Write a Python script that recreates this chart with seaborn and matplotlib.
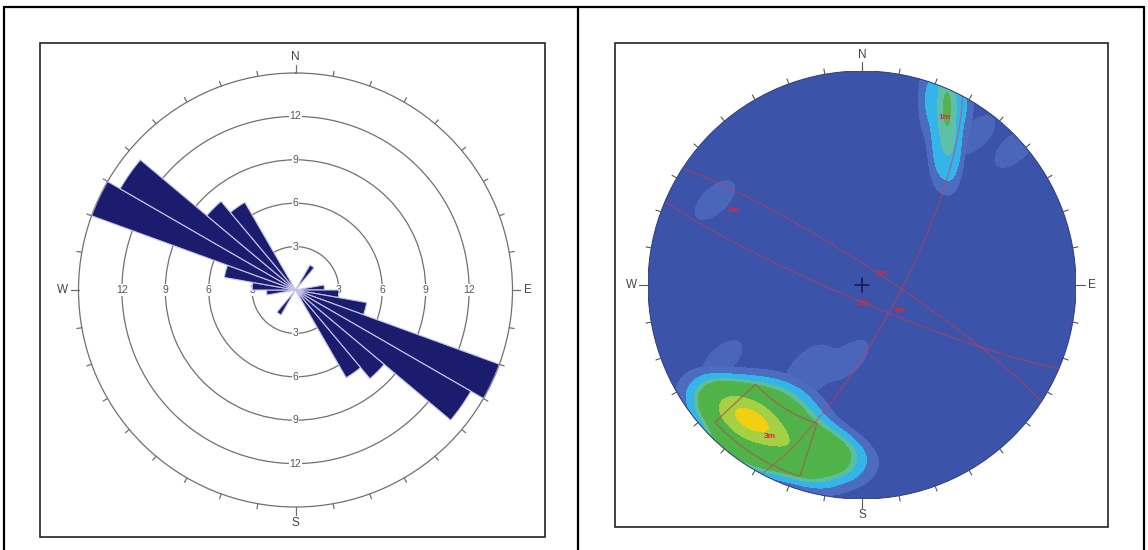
import numpy as np
import pandas as pd
import matplotlib
matplotlib.use("Agg")
import matplotlib.pyplot as plt
import seaborn as sns
from matplotlib.patches import Circle, Rectangle
from matplotlib.lines import Line2D

# ---------------- data ----------------
# Rose diagram: joint strike counts in 10-degree bins (0-180, plotted bidirectionally)
bin_start = [0, 10, 20, 30, 40, 50, 60, 70, 80, 90, 100, 110, 120, 130, 140, 150, 160, 170]
strike_counts = [0, 0, 0, 2, 0, 0, 0, 0, 2, 3, 5, 15, 14, 8, 7, 0, 0, 0]
ring_values = [3, 6, 9, 12]
rose_max = 15

# Poles (equal-area, lower hemisphere, unit disc: x east, y north), pole counts, joint set
pole_x = [-0.523, -0.570, -0.467, -0.593, -0.453, -0.383, -0.290, -0.196, -0.126,
          -0.290, -0.664, -0.477, -0.617, -0.336,
          0.402, 0.388, 0.397, 0.411, 0.364, 0.318, 0.467, 0.411,
          -0.687, -0.654, -0.252, -0.252, -0.065, 0.715, 0.528]
pole_y = [-0.617, -0.668, -0.654, -0.537, -0.537, -0.724, -0.631, -0.794, -0.748,
          -0.841, -0.584, -0.794, -0.748, -0.514,
          0.902, 0.841, 0.771, 0.678, 0.631, 0.864, 0.864, 0.631,
          0.397, -0.350, -0.374, -0.444, -0.350, 0.640, 0.701]
pole_count = [10, 5, 5, 4, 3, 4, 2, 4, 2,
              3, 2, 3, 2, 1,
              4, 3, 3, 2, 1, 1, 1, 1,
              1, 1, 1, 1, 1, 1, 1]
pole_set = ["1"] * 14 + ["2"] * 8 + ["-"] * 7

# Contour bands (iso-proportions) and colours for each joint set
set_levels = {"1": [0.01, 0.035, 0.08, 0.12, 0.6, 0.88, 1.0],
              "2": [0.02, 0.1, 0.45, 0.88, 1.0],
              "-": [0.3, 1.0]}
set_colors = {"1": ["#4c6cc0", "#33b5ea", "#5cbf9c", "#4fb34a", "#a6d043", "#f3cf12"],
              "2": ["#4c6cc0", "#33b5ea", "#5fc0a8", "#55b34d"],
              "-": ["#4a66bb"]}
set_bw = {"1": 0.95, "2": 1.25, "-": 0.17}

# Mean planes: dip direction / dip
plane_dipdir = [33, 203, 118]
plane_dip = [83, 84, 76]

# Set window: trend range and equal-area radius range
window_trend = [198, 227]
window_radius = [0.68, 0.94]

# Set labels (position in unit disc)
label_text = ["1m", "2m", "3m", "2m", "1m", "3m"]
label_x = [0.092, 0.006, 0.178, -0.601, 0.388, -0.430]
label_y = [0.055, -0.086, -0.117, 0.350, 0.785, -0.710]

# ---------------- style ----------------
sns.set_theme(style="white")
plt.rcParams["font.family"] = ["Liberation Sans", "DejaVu Sans"]

W, H = 1148, 550
fig = plt.figure(figsize=(W / 100, H / 100), dpi=100)
fig.patch.set_facecolor("white")


def fx(px):
    return px / W


def fy(py):
    return 1 - py / H


# table frame
for seg in [((4, 7), (1144, 7)), ((4, 7), (4, 552)), ((578, 7), (578, 552)),
            ((1144, 7), (1144, 552))]:
    (x0, y0), (x1, y1) = seg
    fig.add_artist(Line2D([fx(x0), fx(x1)], [fy(y0), fy(y1)], color="black", lw=1.6,
                          transform=fig.transFigure))
for (x0, y0, x1, y1) in [(40, 43, 545, 537), (615, 43, 1108, 527)]:
    fig.add_artist(Rectangle((fx(x0), fy(y1)), fx(x1) - fx(x0), fy(y0) - fy(y1),
                             fill=False, ec="#222222", lw=1.2, transform=fig.transFigure))

# ---------------- rose diagram ----------------
cx, cy, rpx = 295.5, 290, 217
ax1 = fig.add_axes([fx(cx - rpx), fy(cy + rpx), 2 * rpx / W, 2 * rpx / H], projection="polar")
ax1.set_theta_zero_location("N")
ax1.set_theta_direction(-1)
ax1.set_ylim(0, rose_max)
ax1.set_facecolor("none")
ax1.set_xticks([])
ax1.set_yticks(ring_values)
ax1.set_yticklabels([])
ax1.yaxis.grid(True, color="#707070", lw=0.9)
ax1.xaxis.grid(False)
ax1.spines["polar"].set_color("#707070")
ax1.spines["polar"].set_linewidth(0.9)

theta = np.deg2rad(np.concatenate([bin_start, np.array(bin_start) + 180]) + 5)
radii = np.concatenate([strike_counts, strike_counts])
ax1.bar(theta, radii, width=np.deg2rad(10), color="#1c1c6e", edgecolor="#c4c4ee",
        linewidth=0.8, zorder=3)

for ang in [0, 90, 180, 270]:
    for v in ring_values:
        ax1.text(np.deg2rad(ang), v, str(v), ha="center", va="center", fontsize=7.5,
                 color="#555555", zorder=2,
                 bbox=dict(fc="white", ec="none", pad=0.6))

for ang in range(0, 360, 10):
    L = 0.55 if ang % 90 == 0 else 0.35
    ax1.plot([np.deg2rad(ang)] * 2, [rose_max, rose_max + L], color="#707070", lw=0.9,
             clip_on=False, zorder=2)
for ang, lab in zip([0, 90, 180, 270], ["N", "E", "S", "W"]):
    ax1.text(np.deg2rad(ang), rose_max + 1.1, lab, ha="center", va="center",
             fontsize=8.5, color="#444444", clip_on=False)

# ---------------- stereonet ----------------
sx, sy, spx = 862, 285, 214
ax2 = fig.add_axes([fx(sx - spx), fy(sy + spx), 2 * spx / W, 2 * spx / H])
ax2.add_patch(Circle((0, 0), 1, fc="#3b53a8", ec="none", zorder=0))

poles = pd.DataFrame({"x": pole_x, "y": pole_y, "n": pole_count, "set": pole_set})
for key in ["-", "1", "2"]:
    sub = poles[poles["set"] == key]
    sns.kdeplot(data=sub, x="x", y="y", weights="n", ax=ax2, fill=True,
                color=set_colors[key][0], levels=set_levels[key],
                colors=set_colors[key], bw_adjust=set_bw[key],
                gridsize=250, cut=4, zorder=1)
clip = Circle((0, 0), 1, transform=ax2.transData)
for coll in ax2.collections:
    coll.set_clip_path(clip)
ax2.set_xlim(-1, 1)
ax2.set_ylim(-1, 1)
ax2.axis("off")


def great_circle(dd, dip):
    d, a = np.deg2rad(dd), np.deg2rad(dip)
    t = np.linspace(0, np.pi, 200)
    s = np.array([np.sin(d - np.pi / 2), np.cos(d - np.pi / 2), 0.0])
    v = np.array([np.sin(d) * np.cos(a), np.cos(d) * np.cos(a), np.sin(a)])
    vec = np.outer(np.cos(t), s) + np.outer(np.sin(t), v)
    plunge = np.arcsin(np.clip(vec[:, 2], -1, 1))
    trend = np.arctan2(vec[:, 0], vec[:, 1])
    r = np.sqrt(2) * np.sin((np.pi / 2 - plunge) / 2)
    return r * np.sin(trend), r * np.cos(trend)


for dd, dip in zip(plane_dipdir, plane_dip):
    gx, gy = great_circle(dd, dip)
    ax2.plot(gx, gy, color="#d8394c", lw=1.0, alpha=0.5, zorder=3)

# set window outline
t0, t1 = np.deg2rad(window_trend)
r0, r1 = window_radius
arc = np.linspace(t0, t1, 40)
wx = np.concatenate([r0 * np.sin(arc), r1 * np.sin(arc[::-1]), [r0 * np.sin(t0)]])
wy = np.concatenate([r0 * np.cos(arc), r1 * np.cos(arc[::-1]), [r0 * np.cos(t0)]])
ax2.plot(wx, wy, color="#a8584a", lw=1.0, alpha=0.75, zorder=3)

for t, x, y in zip(label_text, label_x, label_y):
    ax2.text(x, y, t, color="#e0263a", fontsize=6, ha="center", va="center",
             fontweight="bold", zorder=4)

ax2.plot([-0.035, 0.035], [0, 0], color="#15154a", lw=1.1, zorder=4)
ax2.plot([0, 0], [-0.035, 0.035], color="#15154a", lw=1.1, zorder=4)

ax2.add_patch(Circle((0, 0), 1, fc="none", ec="#2c3c80", lw=0.7, zorder=5))
for ang in range(0, 360, 10):
    a = np.deg2rad(ang)
    L = 0.04 if ang % 90 == 0 else 0.025
    ax2.plot([np.sin(a), (1 + L) * np.sin(a)], [np.cos(a), (1 + L) * np.cos(a)],
             color="#555555", lw=0.8, clip_on=False, zorder=5)
for ang, lab in zip([0, 90, 180, 270], ["N", "E", "S", "W"]):
    a = np.deg2rad(ang)
    ax2.text(1.075 * np.sin(a), 1.075 * np.cos(a), lab, ha="center", va="center",
             fontsize=8.5, color="#444444", clip_on=False)

fig.savefig("out.png", dpi=100)
